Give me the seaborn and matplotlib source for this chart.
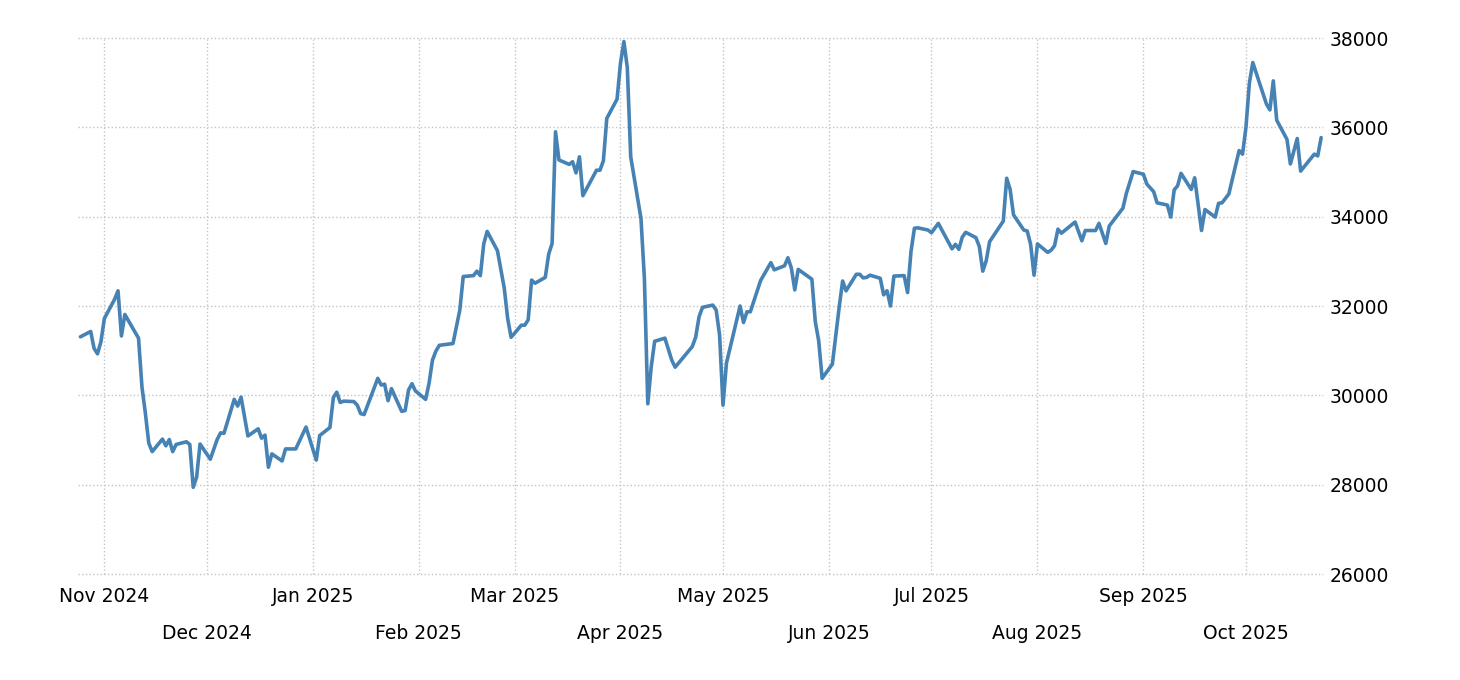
import pandas as pd
import matplotlib
matplotlib.use("Agg")
import matplotlib.pyplot as plt
import matplotlib.dates as mdates
import seaborn as sns

# daily closes (Oct 2024 - Oct 2025)
dates = [
    "2024-10-25", "2024-10-28", "2024-10-29", "2024-10-30", "2024-10-31",
    "2024-11-01", "2024-11-04", "2024-11-05", "2024-11-06", "2024-11-07",
    "2024-11-11", "2024-11-12", "2024-11-13", "2024-11-14", "2024-11-15",
    "2024-11-18", "2024-11-19", "2024-11-20", "2024-11-21", "2024-11-22",
    "2024-11-25", "2024-11-26", "2024-11-27", "2024-11-28", "2024-11-29",
    "2024-12-02", "2024-12-04", "2024-12-05", "2024-12-06",
    "2024-12-09", "2024-12-10", "2024-12-11", "2024-12-13",
    "2024-12-16", "2024-12-17", "2024-12-18", "2024-12-19", "2024-12-20",
    "2024-12-23", "2024-12-24", "2024-12-27", "2024-12-30",
    "2025-01-02", "2025-01-03", "2025-01-06", "2025-01-07", "2025-01-08",
    "2025-01-09", "2025-01-10", "2025-01-13", "2025-01-14", "2025-01-15",
    "2025-01-16", "2025-01-20", "2025-01-21", "2025-01-22", "2025-01-23",
    "2025-01-24", "2025-01-27", "2025-01-28", "2025-01-29", "2025-01-30",
    "2025-01-31", "2025-02-03", "2025-02-04", "2025-02-05", "2025-02-06",
    "2025-02-07", "2025-02-11", "2025-02-13", "2025-02-14", "2025-02-17",
    "2025-02-18", "2025-02-19", "2025-02-20", "2025-02-21", "2025-02-24",
    "2025-02-26", "2025-02-27", "2025-02-28", "2025-03-03", "2025-03-04",
    "2025-03-05", "2025-03-06", "2025-03-07", "2025-03-10", "2025-03-11",
    "2025-03-12", "2025-03-13", "2025-03-14", "2025-03-17", "2025-03-18",
    "2025-03-19", "2025-03-20", "2025-03-21", "2025-03-25", "2025-03-26",
    "2025-03-27", "2025-03-28", "2025-03-31", "2025-04-01", "2025-04-02",
    "2025-04-03", "2025-04-04", "2025-04-07", "2025-04-08", "2025-04-09",
    "2025-04-10", "2025-04-11", "2025-04-14", "2025-04-16", "2025-04-17",
    "2025-04-22", "2025-04-23", "2025-04-24", "2025-04-25", "2025-04-28",
    "2025-04-29", "2025-04-30", "2025-05-01", "2025-05-02", "2025-05-06",
    "2025-05-07", "2025-05-08", "2025-05-09", "2025-05-12", "2025-05-15",
    "2025-05-16", "2025-05-19", "2025-05-20", "2025-05-21", "2025-05-22",
    "2025-05-23", "2025-05-27", "2025-05-28", "2025-05-29", "2025-05-30",
    "2025-06-02", "2025-06-04", "2025-06-05", "2025-06-06", "2025-06-09",
    "2025-06-10", "2025-06-11", "2025-06-12", "2025-06-13", "2025-06-16",
    "2025-06-17", "2025-06-18", "2025-06-19", "2025-06-20", "2025-06-23",
    "2025-06-24", "2025-06-25", "2025-06-26", "2025-06-27", "2025-06-30",
    "2025-07-01", "2025-07-03", "2025-07-07", "2025-07-08", "2025-07-09",
    "2025-07-10", "2025-07-11", "2025-07-14", "2025-07-15", "2025-07-16",
    "2025-07-17", "2025-07-18", "2025-07-22", "2025-07-23", "2025-07-24",
    "2025-07-25", "2025-07-28", "2025-07-29", "2025-07-30", "2025-07-31",
    "2025-08-01", "2025-08-04", "2025-08-05", "2025-08-06", "2025-08-07",
    "2025-08-08", "2025-08-12", "2025-08-14", "2025-08-15", "2025-08-18",
    "2025-08-19", "2025-08-21", "2025-08-22", "2025-08-26", "2025-08-27",
    "2025-08-29", "2025-09-01", "2025-09-02", "2025-09-04", "2025-09-05",
    "2025-09-08", "2025-09-09", "2025-09-10", "2025-09-11", "2025-09-12",
    "2025-09-15", "2025-09-16", "2025-09-18", "2025-09-19", "2025-09-22",
    "2025-09-23", "2025-09-24", "2025-09-26", "2025-09-29", "2025-09-30",
    "2025-10-01", "2025-10-02", "2025-10-03", "2025-10-07", "2025-10-08",
    "2025-10-09", "2025-10-10", "2025-10-13", "2025-10-14", "2025-10-16",
    "2025-10-17", "2025-10-21", "2025-10-22", "2025-10-23",
]
prices = [
    31310, 31430, 31050, 30930, 31200,
    31720, 32150, 32340, 31330, 31810,
    31280, 30190, 29600, 28930, 28740,
    29020, 28870, 29010, 28740, 28900,
    28960, 28900, 27940, 28170, 28910,
    28570, 29010, 29160, 29150,
    29910, 29760, 29960, 29090,
    29250, 29040, 29110, 28390, 28690,
    28530, 28800, 28800, 29290,
    28550, 29100, 29280, 29950, 30070,
    29840, 29870, 29860, 29780, 29590,
    29570, 30380, 30230, 30250, 29880,
    30150, 29640, 29660, 30120, 30260,
    30100, 29910, 30270, 30790, 30990,
    31120, 31160, 31910, 32660, 32680,
    32780, 32680, 33390, 33670, 33240,
    32400, 31720, 31300, 31570, 31570,
    31690, 32580, 32510, 32640, 33160,
    33400, 35900, 35270, 35170, 35230,
    34980, 35340, 34470, 35040, 35040,
    35250, 36200, 36630, 37430, 37920,
    37340, 35340, 33960, 32620, 29810,
    30640, 31210, 31280, 30790, 30630,
    31090, 31300, 31760, 31970, 32020,
    31910, 31350, 29780, 30720, 32000,
    31630, 31870, 31870, 32570, 32970,
    32810, 32900, 33080, 32850, 32360,
    32820, 32600, 31650, 31220, 30380,
    30700, 31980, 32560, 32340, 32710,
    32710, 32630, 32640, 32690, 32620,
    32250, 32340, 32000, 32670, 32680,
    32300, 33220, 33740, 33750, 33700,
    33640, 33850, 33280, 33380, 33270,
    33540, 33650, 33530, 33330, 32780,
    33010, 33440, 33900, 34860, 34610,
    34040, 33700, 33680, 33380, 32690,
    33390, 33200, 33250, 33350, 33720,
    33630, 33880, 33460, 33690, 33690,
    33850, 33400, 33790, 34190, 34520,
    35010, 34950, 34730, 34560, 34310,
    34260, 33990, 34600, 34690, 34970,
    34610, 34870, 33690, 34160, 33990,
    34300, 34310, 34510, 35480, 35400,
    36000, 36990, 37450, 36520, 36390,
    37040, 36160, 35730, 35180, 35750,
    35020, 35400, 35360, 35770,
]

y_ticks = [26000, 28000, 30000, 32000, 34000, 36000, 38000]

df = pd.DataFrame({"date": pd.to_datetime(dates), "price": prices})

sns.set_style("white")
plt.rcParams["font.family"] = ["DejaVu Sans"]

W, H = 1460, 680
fig = plt.figure(figsize=(W / 100, H / 100), dpi=100)
# axes box in pixels: left 78, right 1323, top 38, bottom 574
ax = fig.add_axes([78 / W, 1 - 574 / H, (1323 - 78) / W, (574 - 38) / H])

sns.lineplot(data=df, x="date", y="price", ax=ax, color="#4682b4", linewidth=2.6)

ax.set_ylim(26000, 38000)
ax.set_yticks(y_ticks)
ax.set_yticklabels([str(v) for v in y_ticks])
ax.yaxis.tick_right()
ax.set_xlim(pd.Timestamp("2024-10-24 07:00"), pd.Timestamp("2025-10-23 13:00"))

# two rows of month labels: majors on top row, minors below
ax.xaxis.set_major_locator(mdates.MonthLocator(bymonth=[1, 3, 5, 7, 9, 11]))
ax.xaxis.set_minor_locator(mdates.MonthLocator(bymonth=[2, 4, 6, 8, 10, 12]))
ax.xaxis.set_major_formatter(mdates.DateFormatter("%b %Y"))
ax.xaxis.set_minor_formatter(mdates.DateFormatter("%b %Y"))
ax.tick_params(axis="x", which="both", length=6, width=1, color="#cccccc",
               labelsize=13.5, labelcolor="#000000")
ax.tick_params(axis="x", which="major", pad=3.5)
ax.tick_params(axis="x", which="minor", pad=30)
ax.tick_params(axis="y", length=0, pad=5, labelsize=13.5, labelcolor="#000000")

ax.grid(True, which="both", linestyle=":", color="#c4c4c4", linewidth=1)
for gl in ax.get_ygridlines() + ax.get_xgridlines():
    gl.set_clip_on(False)
for s in ax.spines.values():
    s.set_visible(False)
ax.set_xlabel("")
ax.set_ylabel("")

fig.savefig("out.png", dpi=100)
